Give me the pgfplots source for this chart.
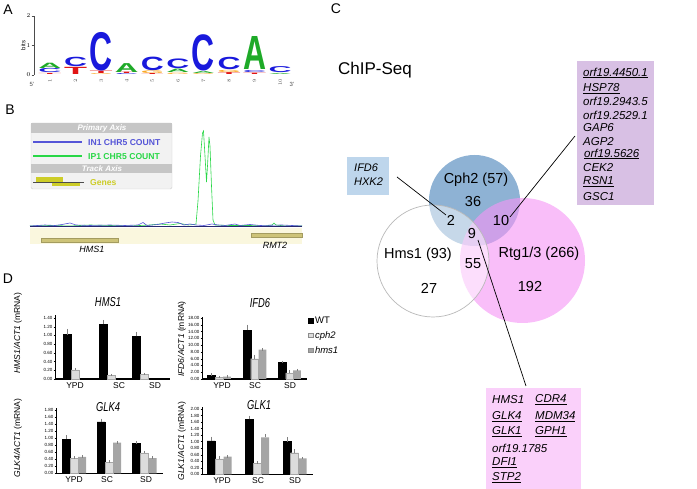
\documentclass[border=0pt]{standalone}
\usepackage{pgfplots}
\pgfplotsset{compat=1.18}
\usepackage{fontspec}
\setmainfont{Liberation Sans}
\usepackage{graphicx}
\definecolor{logoA}{RGB}{30,170,40}
\definecolor{logoC}{RGB}{25,25,220}
\definecolor{logoG}{RGB}{250,170,40}
\definecolor{logoT}{RGB}{225,20,20}
\definecolor{inblue}{RGB}{85,85,215}
\definecolor{ipgreen}{RGB}{40,215,70}
\definecolor{navyline}{RGB}{40,40,110}
\definecolor{trackbg}{RGB}{250,247,222}
\definecolor{genebox}{RGB}{205,195,120}
\definecolor{genesyel}{RGB}{205,205,40}
\definecolor{cphblue}{RGB}{142,178,212}
\definecolor{rtgpink}{RGB}{245,150,245}
\definecolor{boxblue}{RGB}{190,214,236}
\definecolor{boxpurple}{RGB}{216,192,228}
\definecolor{boxpink}{RGB}{250,208,250}
\definecolor{barlight}{RGB}{220,220,220}
\definecolor{barmid}{RGB}{165,165,165}
\newcommand{\fs}[1]{\fontsize{#1}{#1}\selectfont}
\newcommand{\LL}[5]{\node[anchor=south, inner sep=0pt, outer sep=0pt] at (axis cs:#1,#2) {\resizebox*{23pt}{#3pt}{\textcolor{#5}{\bfseries #4}}};}
\pgfplotsset{dbar/.style={
  anchor=south west, scale only axis, ybar, bar width=8pt, ymin=0,
  axis x line*=bottom, axis y line*=left,
  x axis line style={line width=1.3pt, -}, y axis line style={line width=0.6pt, -},
  xtick style={draw=none}, ytick style={line width=0.3pt, black},
  tick align=outside, major tick length=1.5pt,
  yticklabel style={font=\fs{4.5}, inner sep=1pt, /pgf/number format/fixed, /pgf/number format/fixed zerofill, /pgf/number format/precision=2, /pgf/number format/assume math mode=true},
  xticklabel style={font=\fs{8.5}, inner sep=2pt},
  clip=false,
  error bars/y dir=plus, error bars/y explicit,
  error bars/error bar style={line width=0.4pt, black!50},
  error bars/error mark options={black!50, line width=0.4pt, mark size=1.2pt},
}}
\begin{document}
\begin{tikzpicture}
\useasboundingbox (0pt,0pt) rectangle (697pt,489pt);
%% ---------------- Panel A: logo
\begin{axis}[at={(34pt,414pt)}, anchor=south west, scale only axis,
  width=259pt, height=59pt, xmin=0.375, xmax=10.5, ymin=0, ymax=2,
  axis lines=left, axis line style={-}, x axis line style={draw=none},
  y axis line style={line width=0.5pt, black!70},
  xtick={1,...,10}, ytick={0,1,2},
  tick align=outside, major tick length=2.5pt, xtick style={draw=none}, ytick style={black!70, line width=0.5pt},
  x tick label style={rotate=90, anchor=east, font=\fs{5}, text=black!70, inner sep=1pt},
  y tick label style={font=\fs{6}, inner sep=1pt},
  ylabel={bits}, ylabel style={font=\fs{6}, at={(axis description cs:-0.042,0.5)}, anchor=center},
  clip=false]
\LL{1}{0.01}{1.1}{T}{logoT}
\LL{1}{0.07}{4.2}{C}{logoC}
\LL{1}{0.22}{5.3}{A}{logoA}
\LL{2}{0.03}{7.2}{T}{logoT}
\LL{2}{0.28}{9.4}{C}{logoC}
\LL{3}{0.01}{0.9}{G}{logoG}
\LL{3}{0.05}{2.4}{T}{logoT}
\LL{3}{0.14}{38.6}{C}{logoC}
\LL{4}{0.01}{1}{C}{logoC}
\LL{4}{0.05}{1.4}{T}{logoT}
\LL{4}{0.1}{8.9}{A}{logoA}
\LL{5}{0.02}{1}{T}{logoT}
\LL{5}{0.06}{2.7}{G}{logoG}
\LL{5}{0.16}{13.6}{C}{logoC}
\LL{6}{0.02}{1.4}{G}{logoG}
\LL{6}{0.08}{3.4}{A}{logoA}
\LL{6}{0.22}{9.7}{C}{logoC}
\LL{7}{0.01}{0.9}{G}{logoG}
\LL{7}{0.05}{1.9}{A}{logoA}
\LL{7}{0.12}{36.3}{C}{logoC}
\LL{8}{0.02}{1.9}{T}{logoT}
\LL{8}{0.1}{2.2}{G}{logoG}
\LL{8}{0.18}{12.4}{C}{logoC}
\LL{9}{0.02}{1.4}{T}{logoT}
\LL{9}{0.08}{2}{C}{logoC}
\LL{9}{0.17}{33}{A}{logoA}
\LL{10}{0.02}{1.1}{A}{logoA}
\LL{10}{0.08}{6}{C}{logoC}
\end{axis}
%% ---------------- Panel B: track
\begin{axis}[at={(30pt,241pt)}, anchor=south west, scale only axis, width=272pt, height=122pt,
  xmin=30, xmax=302, ymin=-22, ymax=100, axis lines=none, clip=false]
\addplot[fill=trackbg, draw=none] coordinates {(30,-2)(302,-2)(302,-18)(30,-18)} -- cycle;
\addplot[fill=genebox, draw=genebox!80!black, line width=0.3pt] coordinates {(41,-12)(118,-12)(118,-16)(41,-16)} -- cycle;
\addplot[fill=genebox, draw=genebox!80!black, line width=0.3pt] coordinates {(251,-7)(302,-7)(302,-11)(251,-11)} -- cycle;
\addplot[ipgreen, line width=0.6pt] coordinates {(30,0)(50,0.5)(70,0)(90,1)(110,0.5)(130,0)(150,1)(160,2)(170,1)(180,2.5)(188,1)(194,1.5)(196,2)(198,25)(200.5,70)(202.5,93)(203.5,95)(205,70)(206.5,44)(207.5,60)(209,89)(210,80)(211.5,40)(213,6)(215,1)(230,0.5)(250,0.5)(265,0)(272,1)(274,3)(276,1)(285,0)(302,0)};
\addplot[inblue, line width=0.6pt] coordinates {(30,0)(45,1)(55,0.5)(62,1.5)(70,3)(76,1)(90,0.5)(110,1)(125,0.5)(138,1)(143,3.5)(147,0.5)(158,1.5)(165,3)(172,4)(178,3.5)(184,1)(190,2)(196,1)(204,0.5)(212,2)(218,1)(225,0.5)(235,2)(240,0.5)(250,1.5)(260,0.5)(282,1)(302,0)};
\addplot[navyline, line width=0.7pt] coordinates {(30,0)(302,0)};
\node[font=\fs{9}\itshape] at (axis cs:92,-23) {HMS1};
\node[font=\fs{9}\itshape] at (axis cs:275,-19) {RMT2};
\end{axis}
%% ---------------- Panel D: bar charts
\begin{axis}[dbar, at={(55pt,110pt)}, width=115pt, height=64pt, xmin=55, xmax=170, ymax=1.468,
  ytick={0,0.2,0.4,0.6,0.8,1.0,1.2,1.4}, xtick={75,119,155}, xticklabels={YPD,SC,SD}]
\addplot[fill=black, draw=black, bar shift=0pt] coordinates {(67,1.02)+-(0,0.10) (103,1.26)+-(0,0.07) (136,0.98)+-(0,0.08)};
\addplot[fill=barlight, draw=black!35, line width=0.3pt, bar shift=0pt] coordinates {(75,0.21)+-(0,0.02) (111,0.08)+-(0,0.01) (144,0.10)+-(0,0.02)};
\end{axis}
\begin{axis}[dbar, at={(202pt,110pt)}, width=105pt, height=62pt, xmin=202, xmax=307, ymax=18.3,
  ytick={0,2,...,18}, xtick={222,255,290}, xticklabels={YPD,SC,SD}, bar width=7.7pt,
  legend style={at={(axis description cs:1.01,1.04)}, anchor=north west, draw=none, fill=none, font=\fs{9.5}, row sep=2.5pt, inner sep=0pt},
  legend cell align=left]
\addplot[fill=black, draw=black, bar shift=0pt, legend image code/.code={\draw[fill=black,draw=black] (0pt,-2.2pt) rectangle (4.4pt,2.2pt);}] coordinates {(211.5,1.08)+-(0,0.2) (247,14.4)+-(0,1.3) (282,4.9)+-(0,0.1)};
\addplot[fill=barlight, draw=black!35, line width=0.3pt, bar shift=0pt, legend image code/.code={\draw[fill=barlight,draw=black!45,line width=0.3pt] (0pt,-2.2pt) rectangle (4.4pt,2.2pt);}] coordinates {(219,0.5)+-(0,0.05) (254.5,6.0)+-(0,0.8) (289.5,1.8)+-(0,0.4)};
\addplot[fill=barmid, draw=none, bar shift=0pt, legend image code/.code={\draw[fill=barmid,draw=black!45,line width=0.3pt] (0pt,-2.2pt) rectangle (4.4pt,2.2pt);}] coordinates {(227,0.7)+-(0,0.02) (262.5,8.65)+-(0,0.05) (297,2.55)+-(0,0.05)};
\legend{WT,\textit{cph2},\textit{hms1}}
\end{axis}
\begin{axis}[dbar, at={(56pt,15.7pt)}, width=107pt, height=65pt, xmin=56, xmax=163, ymax=1.847,
  ytick={0,0.2,0.4,0.6,0.8,1.0,1.2,1.4,1.6,1.8}, xtick={74,107,146}, xticklabels={YPD,SC,SD}]
\addplot[fill=black, draw=black, bar shift=0pt] coordinates {(66,0.97)+-(0,0.08) (101,1.46)+-(0,0.06) (136,0.85)+-(0,0.03)};
\addplot[fill=barlight, draw=black!35, line width=0.3pt, bar shift=0pt] coordinates {(74,0.43)+-(0,0.02) (109,0.31)+-(0,0.02) (144,0.58)+-(0,0.03)};
\addplot[fill=barmid, draw=none, bar shift=0pt] coordinates {(82,0.47)+-(0,0.01) (117,0.87)+-(0,0.01) (152.5,0.43)+-(0,0.02)};
\end{axis}
\begin{axis}[dbar, at={(202pt,14.7pt)}, width=111pt, height=67.3pt, xmin=202, xmax=313, ymax=2.06,
  ytick={0,0.2,0.4,0.6,0.8,1.0,1.2,1.4,1.6,1.8,2.0}, xtick={222,258,295}, xticklabels={YPD,SC,SD}]
\addplot[fill=black, draw=black, bar shift=0pt] coordinates {(211,1.02)+-(0,0.1) (249,1.68)+-(0,0.08) (287,1.00)+-(0,0.1)};
\addplot[fill=barlight, draw=black!35, line width=0.3pt, bar shift=0pt] coordinates {(219,0.47)+-(0,0.04) (257,0.34)+-(0,0.02) (294.5,0.66)+-(0,0.07)};
\addplot[fill=barmid, draw=none, bar shift=0pt] coordinates {(227.5,0.54)+-(0,0.01) (265,1.13)+-(0,0.06) (302.5,0.49)+-(0,0.01)};
\end{axis}
%% ---------------- text & diagrams in pixel coordinates
\begin{scope}[x=1pt,y=-1pt,yshift=489pt]
% panel letters
\node[font=\fs{14}] at (8,10) {A};
\node[font=\fs{14}] at (10,110) {B};
\node[font=\fs{14}] at (336,9) {C};
\node[font=\fs{14}] at (8,279) {D};
% logo ends
\node[font=\fs{6}, text=black!70] at (32,84) {5'};
\node[font=\fs{6}, text=black!70] at (292,84) {3'};
% panel B legend box
\fill[gray!10, rounded corners=1.5pt] (31,123) rectangle (172,189);
\draw[gray!40, rounded corners=1.5pt, line width=0.4pt] (31,123) rectangle (172,189);
\fill[gray!45] (31.3,123.3) rectangle (171.7,133);
\fill[gray!45] (31.3,164) rectangle (171.7,173);
\node[font=\fs{8}\bfseries\itshape, text=white] at (102,128.2) {Primary Axis};
\node[font=\fs{8}\bfseries\itshape, text=white] at (102,168.7) {Track Axis};
\draw[inblue, line width=1.3pt] (33,142) -- (82,142);
\draw[ipgreen, line width=1.3pt] (33,156) -- (82,156);
\node[font=\fs{8.6}\bfseries, text=inblue, anchor=west, inner sep=0pt] at (88,142.5) {IN1 CHR5 COUNT};
\node[font=\fs{8.6}\bfseries, text=ipgreen, anchor=west, inner sep=0pt] at (88,156.5) {IP1 CHR5 COUNT};
\fill[genesyel] (36,177) rectangle (63,182);
\fill[genesyel] (52,182) rectangle (80,186.5);
\draw[black!70, line width=0.6pt] (33,182) -- (84,182);
\node[font=\fs{8.6}\bfseries, text=genesyel, anchor=west, inner sep=0pt] at (90,183) {Genes};
% Panel C Venn
\node[font=\fs{17}] at (375,70) {ChIP-Seq};
\fill[cphblue] (474.5,200.5) circle[radius=45.5];
\fill[rtgpink, fill opacity=0.62] (522.5,260.5) circle[radius=62.5];
\filldraw[fill=white, fill opacity=0.5, draw=gray!55, line width=0.7pt] (433,261) circle[radius=56];
\node[font=\fs{14.5}] at (476,180) {Cph2 (57)};
\node[font=\fs{14.5}] at (473,202) {36};
\node[font=\fs{14.5}] at (451,220) {2};
\node[font=\fs{14.5}] at (501,221) {10};
\node[font=\fs{14.5}] at (472,234) {9};
\node[font=\fs{14.5}] at (473,264) {55};
\node[font=\fs{14.5}] at (418,255) {Hms1 (93)};
\node[font=\fs{14.5}] at (429,288) {27};
\node[font=\fs{14.5}] at (539,254) {Rtg1/3 (266)};
\node[font=\fs{14.5}] at (530,287) {192};
% boxes
\fill[boxblue] (347,157) rectangle (389,195);
\node[font=\fs{11}\itshape, anchor=west, inner sep=0pt] at (354,168) {IFD6};
\node[font=\fs{11}\itshape, anchor=west, inner sep=0pt] at (354,182) {HXK2};
\draw[black, line width=0.7pt] (397,177) -- (446,215);
\fill[boxpurple] (577,61) rectangle (654,205);
\begin{scope}[every node/.style={font=\fs{11.5}\itshape, anchor=west, inner sep=0pt}]
\node at (583,73) {\underline{orf19.4450.1}};
\node at (583,89) {\underline{HSP78}};
\node at (583,101) {orf19.2943.5};
\node at (583,115) {orf19.2529.1};
\node at (583,128) {GAP6};
\node at (583,142) {AGP2};
\node at (584,154) {\underline{orf19.5626}};
\node at (583,168) {CEK2};
\node at (583,182) {\underline{RSN1}};
\node at (583,197) {GSC1};
\end{scope}
\draw[black, line width=0.7pt] (575,136) -- (510,217);
\fill[boxpink] (486,388) rectangle (581,489);
\begin{scope}[every node/.style={font=\fs{11.5}\itshape, anchor=west, inner sep=0pt}]
\node at (492,400) {HMS1};
\node at (535,400) {\underline{CDR4}};
\node at (492,417) {\underline{GLK4}};
\node at (535,417) {\underline{MDM34}};
\node at (492,432) {\underline{GLK1}};
\node at (535,432) {\underline{GPH1}};
\node at (492,448) {orf19.1785};
\node at (492,463) {\underline{DFI1}};
\node at (492,478) {\underline{STP2}};
\end{scope}
\draw[black, line width=0.7pt] (478,240) -- (526,386);
% Panel D titles and y labels
\node[font=\fs{13}\itshape, xscale=0.72] at (108,302) {HMS1};
\node[font=\fs{13}\itshape, xscale=0.72] at (260,303) {IFD6};
\node[font=\fs{13}\itshape, xscale=0.72] at (108,407) {GLK4};
\node[font=\fs{13}\itshape, xscale=0.72] at (259,405) {GLK1};
\node[font=\fs{8.5}, rotate=90] at (18,333) {\textit{HMS1/ACT1} (mRNA)};
\node[font=\fs{8.5}, rotate=90] at (182,339) {\textit{IFD6/ACT1} (mRNA)};
\node[font=\fs{8.5}, rotate=90] at (18,438) {\textit{GLK4/ACT1} (mRNA)};
\node[font=\fs{8.5}, rotate=90] at (182,441) {\textit{GLK1/ACT1} (mRNA)};
\end{scope}
\end{tikzpicture}
\end{document}
